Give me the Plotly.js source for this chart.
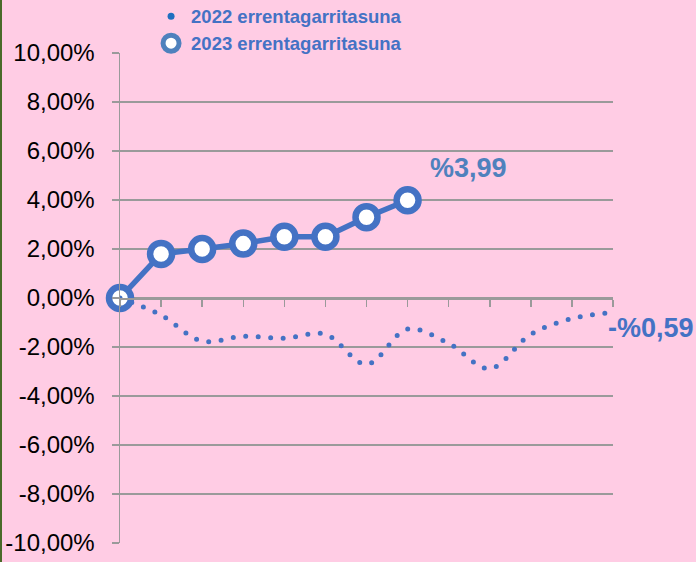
<!DOCTYPE html>
<html>
<head>
<meta charset="utf-8">
<script src="https://cdn.plot.ly/plotly-3.0.1.min.js"></script>
<style>
  html, body { margin: 0; padding: 0; background: #ffcce4; }
  #chart { width: 696px; height: 562px; position: relative; }
  #edge { position: absolute; left: 0; top: 0; width: 2px; height: 562px; background: #4a6a2a; z-index: 5; }
  .js-line { stroke-linecap: round !important; }
</style>
</head>
<body>
<div id="chart"></div>
<div id="edge"></div>
<script>
// Categories (start + 12 months, labels not displayed on the chart)
const categories = ['0', 'Urt', 'Ots', 'Mar', 'Api', 'Mai', 'Eka', 'Uzt', 'Abu', 'Ira', 'Urr', 'Aza', 'Abe'];
// Series values (%)
const values2022 = [0, -0.70, -1.76, -1.56, -1.64, -1.48, -2.71, -1.27, -1.85, -2.88, -1.48, -0.84, -0.59];
const values2023 = [0, 1.80, 2.00, 2.22, 2.50, 2.50, 3.30, 3.99];
const seriesNames = ['2022 errentagarritasuna', '2023 errentagarritasuna'];
const endLabels = ['-%0,59', '%3,99'];
// Y-axis ticks
const yTickVals = [-10, -8, -6, -4, -2, 0, 2, 4, 6, 8, 10];
const yTickText = ['-10,00%', '-8,00%', '-6,00%', '-4,00%', '-2,00%', '0,00%', '2,00%', '4,00%', '6,00%', '8,00%', '10,00%'];

const blue = '#4472c4';
const cats2023 = categories.slice(0, values2023.length);

const traces = [
  {
    x: cats2023, y: values2023, type: 'scatter', mode: 'lines+markers',
    line: { color: blue, width: 5.5 },
    marker: { symbol: 'circle', size: 22, color: '#ffffff', line: { color: blue, width: 6.5 } },
    cliponaxis: false, showlegend: false, hoverinfo: 'skip'
  },
  {
    x: categories, y: values2022, type: 'scatter', mode: 'lines',
    line: { color: blue, width: 5, dash: '0px,12.5px', shape: 'spline', smoothing: 1 },
    cliponaxis: false, showlegend: false, hoverinfo: 'skip'
  },
  {
    x: [null], y: [null], type: 'scatter', mode: 'markers', name: seriesNames[0],
    marker: { symbol: 'circle', size: 7, color: '#1f6fc0' }, legendrank: 1
  },
  {
    x: [null], y: [null], type: 'scatter', mode: 'markers', name: seriesNames[1],
    marker: { symbol: 'circle', size: 16, color: '#ffffff', line: { color: '#4f81bd', width: 5 } }, legendrank: 2
  }
];

const layout = {
  width: 696, height: 562,
  margin: { l: 120, r: 83, t: 53, b: 19, autoexpand: false },
  paper_bgcolor: '#ffcce4', plot_bgcolor: '#ffcce4',
  font: { family: 'Liberation Sans, Arial, sans-serif', color: '#000000' },
  showlegend: true,
  legend: {
    x: 0.063, y: 1.113, xanchor: 'left', yanchor: 'top',
    bgcolor: 'rgba(0,0,0,0)',
    font: { family: 'Liberation Sans, Arial, sans-serif', size: 18.5, color: blue, weight: 'bold' },
    tracegroupgap: 0
  },
  xaxis: {
    type: 'category', range: [0, categories.length - 1],
    showgrid: false, zeroline: false, showticklabels: false,
    showline: true, linecolor: '#9a9a9a', linewidth: 1.5,
    ticks: 'outside', ticklen: 7, tickcolor: '#9a9a9a', tickwidth: 1.5,
    anchor: 'free', position: 0.5, fixedrange: true
  },
  yaxis: {
    range: [-10, 10], tickvals: yTickVals, ticktext: yTickText,
    showgrid: true, gridcolor: '#9a9a9a', gridwidth: 1.3, zeroline: false,
    showline: true, linecolor: '#9a9a9a', linewidth: 1.5,
    ticks: 'outside', ticklen: 7, tickcolor: '#9a9a9a', tickwidth: 1.3,
    tickfont: { size: 24, color: '#000000' }, ticklabelstandoff: 12, fixedrange: true,
    automargin: false
  },
  annotations: [
    {
      x: categories[values2022.length - 1], y: values2022[values2022.length - 1], xref: 'x', yref: 'y',
      text: endLabels[0], showarrow: false, xanchor: 'center', yanchor: 'middle',
      xshift: 38, yshift: -16,
      font: { size: 27, color: blue, weight: 'bold' }
    },
    {
      x: cats2023[values2023.length - 1], y: values2023[values2023.length - 1], xref: 'x', yref: 'y',
      text: endLabels[1], showarrow: false, xanchor: 'center', yanchor: 'middle',
      xshift: 61, yshift: 32,
      font: { size: 27, color: '#4f81bd', weight: 'bold' }
    }
  ]
};

Plotly.newPlot('chart', traces, layout, { displayModeBar: false, staticPlot: true });
</script>
</body>
</html>
